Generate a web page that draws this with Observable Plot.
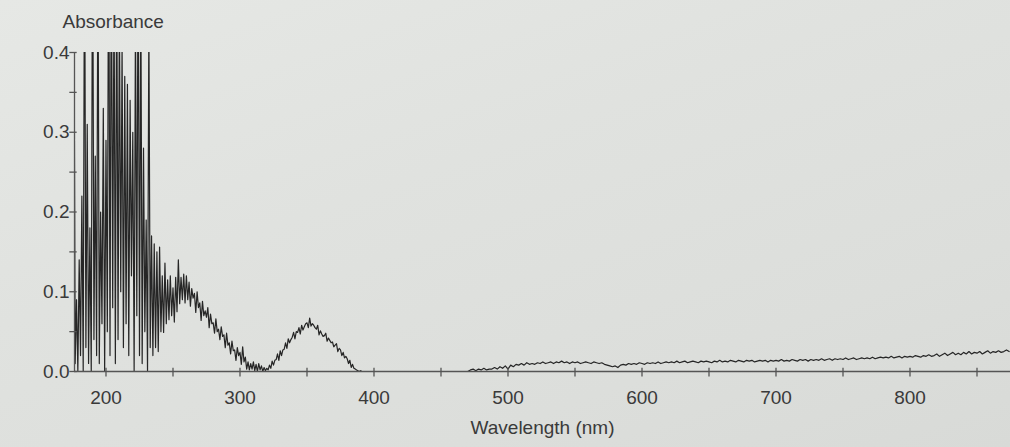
<!DOCTYPE html>
<html>
<head>
<meta charset="utf-8">
<script src="https://cdn.jsdelivr.net/npm/d3@7"></script>
<script src="https://cdn.jsdelivr.net/npm/@observablehq/plot@0.6"></script>
<style>
  html, body { margin: 0; padding: 0; }
  body {
    width: 1010px; height: 447px; overflow: hidden;
    background: linear-gradient(160deg, #e6e8e5 0%, #e0e2df 40%, #dcdedb 75%, #d8dad7 100%);
  }
</style>
</head>
<body>
<div id="chart"></div>
<script>
// Axis ticks
const xLabelTicks = [200, 300, 400, 500, 600, 700, 800];
const xMinorTicks = [200, 250, 300, 350, 400, 450, 500, 550, 600, 650, 700, 750, 800, 850];
const yLabelTicks = [0, 0.1, 0.2, 0.3, 0.4];
const yMinorTicks = [0, 0.05, 0.1, 0.15, 0.2, 0.25, 0.3, 0.35, 0.4];

// Spectrum segments (wavelength start, step in nm, absorbance values)
const segA = { start: 175, step: 1, values: [
  0.00, 0.52, 0.01, 0.09, 0.00, 0.14, 0.02, 0.22, 0.00, 0.58,
  0.03, 0.31, 0.01, 0.18, 0.00, 0.61, 0.04, 0.27, 0.02, 0.55,
  0.01, 0.20, 0.06, 0.33, 0.00, 0.29, 0.05, 0.62, 0.02, 0.57,
  0.08, 0.49, 0.01, 0.53, 0.04, 0.46, 0.10, 0.41, 0.03, 0.37,
  0.06, 0.36, 0.02, 0.34, 0.12, 0.30, 0.00, 0.45, 0.07, 0.56,
  0.02, 0.48, 0.01, 0.28, 0.05, 0.19, 0.00, 0.44, 0.03, 0.17,
  0.02
]};
const segB = { start: 236, step: 1, values: [
  0.160, 0.030, 0.150, 0.025, 0.156, 0.050, 0.120, 0.049, 0.136, 0.060,
  0.115, 0.065, 0.120, 0.070, 0.105, 0.062, 0.118, 0.075, 0.140, 0.085,
  0.118, 0.090, 0.122, 0.086, 0.120, 0.090, 0.112, 0.082, 0.104, 0.092,
  0.098, 0.074, 0.100, 0.080, 0.086, 0.064, 0.088, 0.070, 0.076, 0.068,
  0.080, 0.055, 0.072, 0.060, 0.061, 0.048, 0.066, 0.050, 0.053, 0.040,
  0.056, 0.044, 0.046, 0.030, 0.048, 0.033, 0.036, 0.022, 0.038, 0.026,
  0.027, 0.014, 0.030, 0.020, 0.024, 0.009, 0.031, 0.012, 0.018, 0.003,
  0.012, 0.002, 0.010, 0.003, 0.012, 0.001, 0.009, 0.000, 0.010, 0.002,
  0.007, 0.000, 0.005, 0.001, 0.004, 0.002, 0.008, 0.004, 0.013, 0.008,
  0.014, 0.015, 0.022, 0.014, 0.026, 0.020, 0.027, 0.028, 0.036, 0.029,
  0.041, 0.036, 0.040, 0.043, 0.049, 0.041, 0.050, 0.049, 0.055, 0.047,
  0.058, 0.052, 0.056, 0.060, 0.061, 0.055, 0.067, 0.057, 0.060, 0.058,
  0.055, 0.053, 0.058, 0.046, 0.051, 0.047, 0.044, 0.045, 0.048, 0.038,
  0.042, 0.039, 0.036, 0.037, 0.031, 0.033, 0.035, 0.025, 0.029, 0.027,
  0.020, 0.024, 0.017, 0.019, 0.016, 0.010, 0.014, 0.005, 0.009, 0.004,
  0.003, 0.002, 0.001, 0.000, 0.001, 0.000
]};
const segC = { start: 392, step: 2, values: [
  0, 0, 0, 0, 0, 0, 0, 0, 0, 0,
  0, 0, 0, 0, 0, 0, 0, 0, 0, 0,
  0, 0, 0, 0, 0, 0, 0, 0, 0, 0,
  0, 0, 0, 0, 0, 0, 0, 0, 0, 0
]};
const segD = { start: 472, step: 2, values: [
  0.002, 0.003, 0.001, 0.003, 0.002, 0.004, 0.002, 0.003, 0.003, 0.005,
  0.003, 0.006, 0.004, 0.007, 0.003, 0.008, 0.006, 0.009, 0.008, 0.010,
  0.008, 0.011, 0.009, 0.010, 0.009, 0.011, 0.010, 0.012, 0.010, 0.011,
  0.012, 0.010, 0.012, 0.011, 0.013, 0.011, 0.012, 0.010, 0.012, 0.011,
  0.012, 0.010, 0.011, 0.012, 0.011, 0.010, 0.012, 0.011, 0.010, 0.011,
  0.009, 0.008, 0.007, 0.006, 0.007, 0.005, 0.008, 0.009, 0.008, 0.010,
  0.009, 0.010, 0.009, 0.011, 0.010, 0.009, 0.011, 0.010, 0.011, 0.010,
  0.012, 0.010, 0.011, 0.012, 0.011, 0.012, 0.011, 0.013, 0.011, 0.012,
  0.013, 0.011, 0.012, 0.013, 0.012, 0.011, 0.013, 0.012, 0.013, 0.012,
  0.011, 0.013, 0.012, 0.014, 0.012, 0.013, 0.012, 0.014, 0.013, 0.012,
  0.014, 0.013, 0.012, 0.014, 0.013, 0.014, 0.012, 0.013, 0.014, 0.013,
  0.014, 0.012, 0.014, 0.013, 0.014, 0.013, 0.015, 0.013, 0.014, 0.013,
  0.015, 0.014, 0.013, 0.015, 0.014, 0.015, 0.013, 0.015, 0.014, 0.015,
  0.014, 0.016, 0.014, 0.015, 0.016, 0.014, 0.016, 0.015, 0.016, 0.015,
  0.017, 0.015, 0.016, 0.017, 0.015, 0.016, 0.017, 0.016, 0.017, 0.016,
  0.018, 0.016, 0.017, 0.018, 0.017, 0.018, 0.017, 0.019, 0.017, 0.018,
  0.019, 0.017, 0.019, 0.018, 0.019, 0.018, 0.020, 0.019, 0.018, 0.020,
  0.019, 0.021, 0.019, 0.020, 0.022, 0.019, 0.021, 0.023, 0.020, 0.022,
  0.024, 0.021, 0.023, 0.021, 0.024, 0.022, 0.025, 0.022, 0.024, 0.023,
  0.025, 0.022, 0.024, 0.026, 0.023, 0.025, 0.024, 0.026, 0.024, 0.025,
  0.027, 0.025
]};

const spectrum = [segA, segB, segC, segD].flatMap(seg =>
  seg.values.map((v, i) => ({ wavelength: seg.start + i * seg.step, absorbance: v }))
);

const xMin = 176.5, xMax = 875;
const axisColor = "#555";
const textColor = "#3a3a3a";

const chart = Plot.plot({
  width: 1010,
  height: 447,
  marginLeft: 74,
  marginRight: 0,
  marginTop: 52,
  marginBottom: 76,
  x: { domain: [xMin, xMax] },
  y: { domain: [0, 0.4] },
  style: {
    background: "transparent",
    fontFamily: "'Liberation Sans', Arial, sans-serif",
    color: textColor,
    overflow: "visible"
  },
  marks: [
    Plot.line(spectrum, { x: "wavelength", y: "absorbance", stroke: "#262626", strokeWidth: 1.2, clip: true }),
    Plot.ruleY([0], { stroke: axisColor, strokeWidth: 1.3 }),
    Plot.ruleX([xMin], { y1: 0, y2: 0.4, stroke: axisColor, strokeWidth: 1.3 }),
    Plot.ruleX(xMinorTicks, { x: d => d, y1: -0.007, y2: 0.004, stroke: axisColor, strokeWidth: 1.3 }),
    Plot.ruleY(yMinorTicks, { y: d => d, x1: xMin - 3.5, x2: xMin + 2, stroke: axisColor, strokeWidth: 1.3 }),
    Plot.axisX({
      ticks: xLabelTicks, tickSize: 0, tickPadding: 19, fontSize: 19,
      label: "Wavelength (nm)", labelAnchor: "center", labelArrow: "none", labelOffset: 62
    }),
    Plot.axisY({
      ticks: yLabelTicks, tickSize: 0, tickPadding: 5, fontSize: 19,
      tickFormat: d3.format(".1f"), label: null
    }),
    Plot.text(["Absorbance"], {
      frameAnchor: "top-left", dx: -12, dy: -31, textAnchor: "start", lineAnchor: "middle",
      fontSize: 19, fill: textColor
    })
  ]
});
document.getElementById("chart").appendChild(chart);
</script>
</body>
</html>
